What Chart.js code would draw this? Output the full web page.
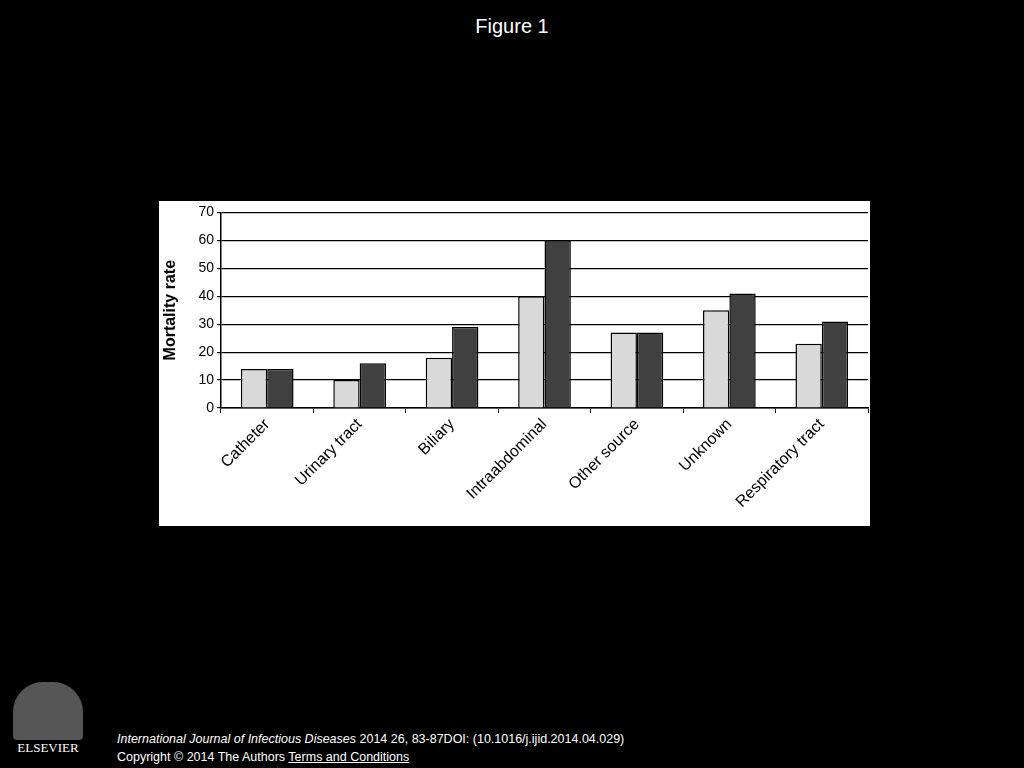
<!DOCTYPE html>
<html><head><meta charset="utf-8">
<script src="https://cdn.jsdelivr.net/npm/chart.js@4"></script>
<style>
body{margin:0;background:#000;width:1024px;height:768px;position:relative;overflow:hidden;font-family:"Liberation Sans",Arial,sans-serif}
#t{position:absolute;top:15px;width:1024px;text-align:center;color:#fff;font-size:20px}
#p{position:absolute;left:159px;top:201px;width:711px;height:325px;background:#fff}
#f{position:absolute;left:117px;top:730px;color:#fff;font-size:12.5px;line-height:18px}
#f a{color:#fff;text-decoration:underline}
#logo{position:absolute;left:10px;top:682px;width:76px;height:80px;color:#fff;font-family:"Liberation Serif",serif;font-size:13px;text-align:center}
</style></head><body>
<div id="t">Figure 1</div>
<div id="p"><canvas id="c" width="711" height="325"></canvas></div>
<div id="logo"><div style="width:70px;height:58px;margin:0 auto;background:#555;border-radius:30px 30px 4px 4px"></div>ELSEVIER</div>
<div id="f"><i>International Journal of Infectious Diseases</i> 2014 26, 83-87DOI: (10.1016/j.ijid.2014.04.029)<br>Copyright © 2014 The Authors <a> Terms and Conditions</a></div>
<script>
const categories=["Catheter","Urinary tract","Biliary","Intraabdominal","Other source","Unknown","Respiratory tract"];
const seriesA=[14,10,18,40,27,35,23];
const seriesB=[14,16,29,60,27,41,31];
new Chart(document.getElementById('c'),{type:'bar',
data:{labels:categories,datasets:[
{data:seriesA,backgroundColor:'#d9d9d9',borderColor:'#000',borderWidth:1.5},
{data:seriesB,backgroundColor:'#404040',borderColor:'#000',borderWidth:1.5}]},
options:{responsive:false,animation:false,layout:{padding:{top:7,right:2,left:0,bottom:0}},
datasets:{bar:{categoryPercentage:0.57,barPercentage:1}},
plugins:{legend:{display:false},tooltip:{enabled:false}},
scales:{
x:{offset:true,grid:{display:true,drawOnChartArea:false,color:'#000',tickLength:5,offset:true},border:{color:'#000',width:1.5},
ticks:{color:'#000',font:{size:16,family:'Liberation Sans'},maxRotation:45,minRotation:45,padding:2},
afterFit:a=>{a.height=118}},
y:{min:0,max:70,ticks:{stepSize:10,color:'#000',font:{size:14,family:'Liberation Sans'}},
grid:{color:'#000',lineWidth:1.2,tickLength:4},border:{color:'#000',width:1.5},
title:{display:true,text:'Mortality rate',color:'#000',font:{size:16,weight:'bold',family:'Liberation Sans'},padding:2},
afterFit:a=>{a.width=62}}}}});
</script></body></html>
